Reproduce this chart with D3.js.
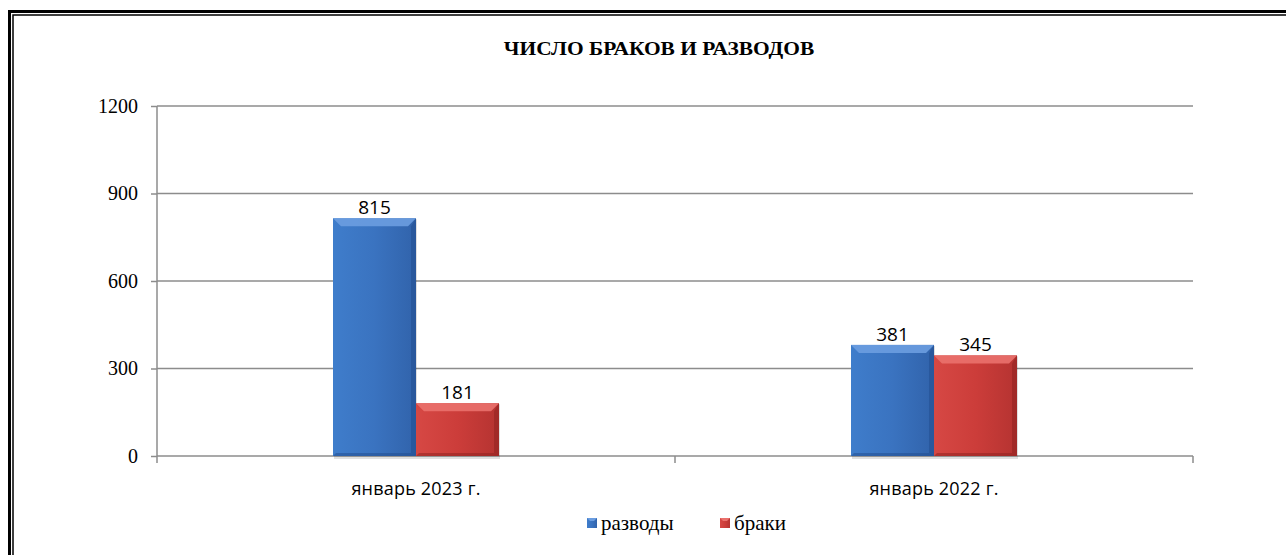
<!DOCTYPE html>
<html>
<head>
<meta charset="utf-8">
<script src="https://cdn.jsdelivr.net/npm/d3@7"></script>
<style>
  body { margin: 0; background: #fff; overflow: hidden; }
  svg { display: block; }
</style>
</head>
<body>
<svg width="1286" height="555"></svg>
<script>
// data
var categories = ["январь 2023 г.", "январь 2022 г."];
var seriesNames = ["разводы", "браки"];
var razvody = [815, 381];
var braki = [181, 345];
var yTicks = [0, 300, 600, 900, 1200];

var svg = d3.select("svg"),
    margin = { top: 106, right: 93, bottom: 99, left: 157 },
    width = +svg.attr("width"),
    height = +svg.attr("height");

const innerWidth = width - margin.left - margin.right;   // 1036
const innerHeight = height - margin.top - margin.bottom; // 350

var colors = {
  "разводы": { base: "#3a73c0", light: "#6b9de0", dark: "#234f8f", lo: "#3f7dcb", hi: "#3163ab" },
  "браки":   { base: "#cc3d3a", light: "#ea716d", dark: "#8f2220", lo: "#d64844", hi: "#b53331" }
};

// frame (double line, runs off the right and bottom edges)
svg.append("path").attr("d", "M" + width + ",11.5H9.5V" + height)
  .attr("fill", "none").attr("stroke", "#000").attr("stroke-width", 3);
svg.append("path").attr("d", "M" + width + ",15H13V" + height)
  .attr("fill", "none").attr("stroke", "#000").attr("stroke-width", 1.5);

// gradients
var defs = svg.append("defs");
seriesNames.forEach(function(s, i) {
  var c = colors[s];
  var gr = defs.append("linearGradient").attr("id", "grad" + i)
    .attr("x1", "0").attr("x2", "1").attr("y1", "0").attr("y2", "0");
  gr.append("stop").attr("offset", "0%").attr("stop-color", c.lo);
  gr.append("stop").attr("offset", "50%").attr("stop-color", c.base);
  gr.append("stop").attr("offset", "100%").attr("stop-color", c.hi);
});

// title
svg.append("text")
  .attr("transform", "translate(659,55) scale(1.19,1)")
  .attr("text-anchor", "middle")
  .attr("font-family", "Liberation Serif, serif")
  .attr("font-weight", "bold")
  .attr("font-size", "18px")
  .text("ЧИСЛО БРАКОВ И РАЗВОДОВ");

const g = svg.append("g").attr("transform", "translate(" + margin.left + "," + margin.top + ")");

const yScale = d3.scaleLinear().domain([0, 1200]).range([innerHeight, 0]);
const xScale = d3.scaleBand().domain(categories).range([0, innerWidth]).padding(0);
const x1 = d3.scaleBand().domain(seriesNames)
  .range([xScale.bandwidth() / 2 - 83, xScale.bandwidth() / 2 + 83]).padding(0);

// gridlines
g.append("g").selectAll("line").data(yTicks.slice(1)).enter().append("line")
  .attr("x1", 0).attr("x2", innerWidth)
  .attr("y1", d => yScale(d)).attr("y2", d => yScale(d))
  .attr("stroke", "#8c8c8c").attr("stroke-width", 1.5);

// y axis
var yAxis = g.append("g")
  .call(d3.axisLeft(yScale).tickValues(yTicks).tickSize(6).tickPadding(13).tickFormat(d3.format("d")));
yAxis.select(".domain").attr("stroke", "#8c8c8c").attr("stroke-width", 1.5).attr("d", "M0,0V" + innerHeight);
yAxis.selectAll(".tick line").attr("stroke", "#8c8c8c").attr("stroke-width", 1.5);
yAxis.selectAll(".tick text")
  .attr("font-family", "Liberation Serif, serif").attr("font-size", "20px").attr("fill", "#000");

// x axis
var xAxis = g.append("g").attr("transform", "translate(0," + innerHeight + ")")
  .call(d3.axisBottom(xScale).tickSize(0).tickPadding(0));
xAxis.select(".domain").attr("stroke", "#8c8c8c").attr("stroke-width", 1.5).attr("d", "M0,0H" + innerWidth);
xAxis.selectAll(".tick line").remove();
xAxis.selectAll(".tick text")
  .attr("y", 39).attr("dy", 0)
  .attr("font-family", "Open Sans, sans-serif").attr("font-size", "18px")
  .attr("letter-spacing", "0.2px").attr("fill", "#000");
// category boundary ticks
var bounds = [0].concat(categories.map(c => xScale(c) + xScale.bandwidth()));
g.append("g").selectAll("line").data(bounds).enter().append("line")
  .attr("x1", d => d).attr("x2", d => d)
  .attr("y1", innerHeight).attr("y2", innerHeight + 7)
  .attr("stroke", "#8c8c8c").attr("stroke-width", 1.5);

// bars
var rows = categories.map((c, i) => ({ cat: c, values: [
  { key: "разводы", value: razvody[i], idx: 0 },
  { key: "браки", value: braki[i], idx: 1 }
]}));

var bev = 8;
var groups = g.selectAll(".grp").data(rows).enter().append("g")
  .attr("transform", d => "translate(" + xScale(d.cat) + ",0)");

var bars = groups.selectAll(".bar").data(d => d.values).enter().append("g");

bars.each(function(d) {
  var sel = d3.select(this);
  var c = colors[d.key];
  var x0 = x1(d.key), w = x1.bandwidth();
  var y0 = yScale(d.value), yb = yScale(0);
  var x2 = x0 + w;
  // soft shadow
  sel.append("rect").attr("x", x0 + 1).attr("y", y0 + 1).attr("width", w).attr("height", yb - y0 + 2)
    .attr("fill", "#000").attr("opacity", 0.12);
  sel.append("rect").attr("x", x0).attr("y", y0).attr("width", w).attr("height", yb - y0)
    .attr("fill", "url(#grad" + d.idx + ")");
  // top bevel
  sel.append("polygon")
    .attr("points", [[x0, y0], [x2, y0], [x2 - bev, y0 + bev], [x0 + bev, y0 + bev]].join(" "))
    .attr("fill", c.light).attr("opacity", 0.9);
  // left bevel
  sel.append("polygon")
    .attr("points", [[x0, y0], [x0 + 3, y0 + bev], [x0 + 3, yb - 3], [x0, yb]].join(" "))
    .attr("fill", c.lo).attr("opacity", 0.8);
  // right bevel
  sel.append("polygon")
    .attr("points", [[x2, y0], [x2 - 5, y0 + bev], [x2 - 5, yb - 3], [x2, yb]].join(" "))
    .attr("fill", c.dark).attr("opacity", 0.55);
  // bottom bevel
  sel.append("polygon")
    .attr("points", [[x0, yb], [x2, yb], [x2 - 5, yb - 3], [x0 + 3, yb - 3]].join(" "))
    .attr("fill", c.dark).attr("opacity", 0.55);
  // value label
  sel.append("text")
    .attr("x", x0 + w / 2).attr("y", y0 - 4)
    .attr("text-anchor", "middle")
    .attr("font-family", "Open Sans, sans-serif").attr("font-size", "19px").attr("fill", "#000")
    .text(d.value);
});

// legend
var legendX = [587, 720];
var legend = svg.append("g").selectAll("g").data(seriesNames).enter().append("g")
  .attr("transform", (d, i) => "translate(" + legendX[i] + ",518)");
legend.append("rect").attr("width", 10).attr("height", 10)
  .attr("fill", (d, i) => "url(#grad" + i + ")");
legend.append("polygon").attr("points", "0,0 10,0 7,3 3,3")
  .attr("fill", d => colors[d].light);
legend.append("text").attr("x", 14).attr("y", 12)
  .attr("font-family", "Liberation Serif, serif").attr("font-size", "21px").attr("fill", "#000")
  .text(d => d);
</script>
</body>
</html>
